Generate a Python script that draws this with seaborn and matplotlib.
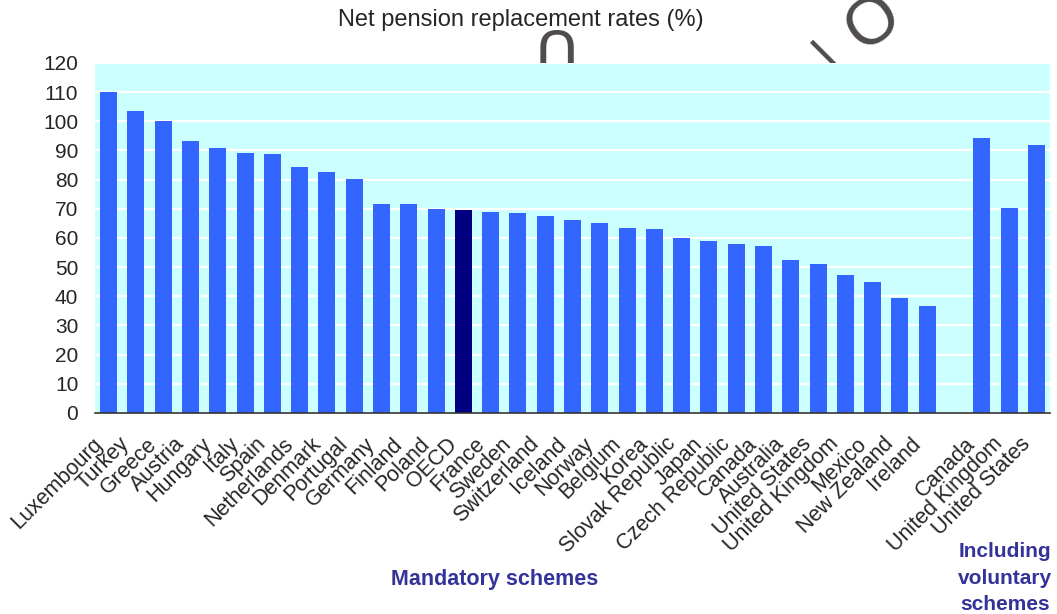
import pandas as pd
import seaborn as sns
import matplotlib.pyplot as plt
from matplotlib.transforms import ScaledTranslation, blended_transform_factory

# Data
mandatory = ["Luxembourg", "Turkey", "Greece", "Austria", "Hungary", "Italy", "Spain",
             "Netherlands", "Denmark", "Portugal", "Germany", "Finland", "Poland", "OECD",
             "France", "Sweden", "Switzerland", "Iceland", "Norway", "Belgium", "Korea",
             "Slovak Republic", "Japan", "Czech Republic", "Canada", "Australia",
             "United States", "United Kingdom", "Mexico", "New Zealand", "Ireland"]
mandatory_rates = [110.2, 103.5, 100.0, 93.2, 90.8, 89.1, 88.8, 84.3, 82.6, 80.2, 71.6, 71.6,
                   69.9, 69.6, 68.8, 68.5, 67.4, 66.1, 65.1, 63.4, 63.1, 60.1, 59.1, 58.0,
                   57.3, 52.5, 51.1, 47.4, 45.0, 39.5, 36.7]
voluntary = ["Canada", "United Kingdom", "United States"]
voluntary_rates = [94.3, 70.3, 92.0]

# unique keys for the categorical axis, with an empty slot between the two groups
keys = mandatory + [" "] + [c + " (vol)" for c in voluntary]
labels = mandatory + [""] + voluntary
df = pd.DataFrame({
    "key": mandatory + [c + " (vol)" for c in voluntary],
    "rate": mandatory_rates + voluntary_rates,
})
palette = {k: ("#000080" if k == "OECD" else "#3366FF") for k in df["key"]}

sns.set_style("white")
plt.rcParams["font.family"] = ["Liberation Sans", "DejaVu Sans"]

fig = plt.figure(figsize=(10.57, 6.14), dpi=100)
ax = fig.add_axes([0.0899, 0.3274, 0.9035, 0.570])
ax.set_facecolor("#CCFFFF")

sns.barplot(data=df, x="key", y="rate", order=keys, hue="key", palette=palette,
            legend=False, width=0.62, saturation=1, linewidth=0, ax=ax, zorder=2)

ax.set_ylim(0, 120)
ax.set_xlim(-0.5, len(keys) - 0.5)
ax.set_yticks(range(0, 121, 10))
ax.yaxis.grid(True, color="white", linewidth=1.6, zorder=1)
ax.set_axisbelow(True)
ax.set_xticks(range(len(keys)))
ax.set_xticklabels([])
ax.tick_params(axis="y", length=0, pad=12, labelsize=15)
ax.tick_params(axis="x", length=0)
ax.set_xlabel("")
ax.set_ylabel("")
for s in ["top", "right", "left"]:
    ax.spines[s].set_visible(False)
ax.spines["bottom"].set_color("#333333")
ax.spines["bottom"].set_linewidth(1.2)

# rotated category labels, ending a little left of and below each bar
lab_tr = blended_transform_factory(ax.transData, ax.transAxes) + \
    ScaledTranslation(-0.095, -0.28, fig.dpi_scale_trans)
for i, lab in enumerate(labels):
    ax.text(i, 0, lab, transform=lab_tr, rotation=45, rotation_mode="anchor",
            ha="right", va="center", fontsize=15.5)

fig.text(0.493, 0.968, "Net pension replacement rates (%)", ha="center", va="center",
         fontsize=17)
fig.text(0.468, 0.056, "Mandatory schemes", ha="center", va="center", fontsize=15.5,
         fontweight="bold", color="#333399")
fig.text(0.951, 0.058, "Including\nvoluntary\nschemes", ha="center", va="center",
         fontsize=15, fontweight="bold", color="#333399", linespacing=1.5)

# faint watermark glyphs, mostly hidden behind the plot area
wm = "#4f4b4b"
fig.text(0.5175, 0.926, "U", rotation=180, ha="center", va="center", fontsize=43,
         color=wm, zorder=-1, family="DejaVu Sans")
fig.text(0.783, 0.91, "l", rotation=45, ha="center", va="center", fontsize=36,
         color=wm, zorder=-1, family="DejaVu Sans")
fig.text(0.827, 0.962, "O", rotation=35, ha="center", va="center", fontsize=48,
         color=wm, zorder=-1)

fig.savefig("out.png", dpi=100)
